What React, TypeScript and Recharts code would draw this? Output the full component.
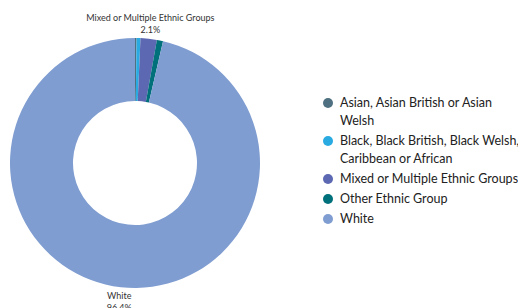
import React from "react";
import { PieChart, Pie, Cell, Legend } from "recharts";

const categories = [
  "Asian, Asian British or Asian Welsh",
  "Black, Black British, Black Welsh, Caribbean or African",
  "Mixed or Multiple Ethnic Groups",
  "Other Ethnic Group",
  "White",
];
const values = [0.2, 0.5, 2.1, 0.8, 96.4];
const labelled = ["Mixed or Multiple Ethnic Groups", "White"];
const colors = ["#4f7081", "#29abe2", "#5c68b1", "#00707a", "#7f9dd1"];

const data = categories.map((name, i) => ({ name, value: values[i] }));

const FONT = "Lato, 'Open Sans', sans-serif";

const RADIAN = Math.PI / 180;

const renderLabel = (props: any) => {
  const { cx, cy, midAngle, outerRadius, name, value } = props;
  if (!labelled.includes(name)) return null;
  const r = outerRadius + 15;
  const x = cx + r * Math.cos(-midAngle * RADIAN);
  const y = cy + r * Math.sin(-midAngle * RADIAN);
  return (
    <text
      x={x}
      y={y}
      textAnchor="middle"
      fontFamily={FONT}
      fontSize={9}
      fill="#333"
    >
      <tspan x={x} dy={-3}>{name}</tspan>
      <tspan x={x} dy={12}>{value.toFixed(1)}%</tspan>
    </text>
  );
};

const LegendContent = () => (
  <div style={{ fontFamily: FONT, fontSize: 12.5, color: "#222", width: 198 }}>
    {categories.map((c, i) => (
      <div
        key={c}
        style={{ display: "flex", alignItems: "flex-start", marginBottom: 2, lineHeight: "18px" }}
      >
        <span
          style={{
            display: "inline-block",
            width: 10,
            height: 10,
            borderRadius: 5,
            background: colors[i],
            marginTop: 4,
            marginRight: 7,
            flexShrink: 0,
          }}
        />
        <span>{c}</span>
      </div>
    ))}
  </div>
);

export default function App() {
  return (
    <div style={{ position: "absolute", left: 0, top: 0, background: "#fff" }}>
      <PieChart width={518} height={308}>
        <Pie
          data={data}
          dataKey="value"
          nameKey="name"
          cx={130}
          cy={158}
          innerRadius={62}
          outerRadius={125}
          startAngle={90}
          endAngle={-270}
          stroke="none"
          label={renderLabel}
          labelLine={false}
          isAnimationActive={false}
        >
          {data.map((d, i) => (
            <Cell key={d.name} fill={colors[i]} />
          ))}
        </Pie>
        <Legend
          layout="vertical"
          align="right"
          verticalAlign="top"
          wrapperStyle={{ left: 323, top: 94, width: 198 }}
          content={<LegendContent />}
        />
      </PieChart>
    </div>
  );
}
